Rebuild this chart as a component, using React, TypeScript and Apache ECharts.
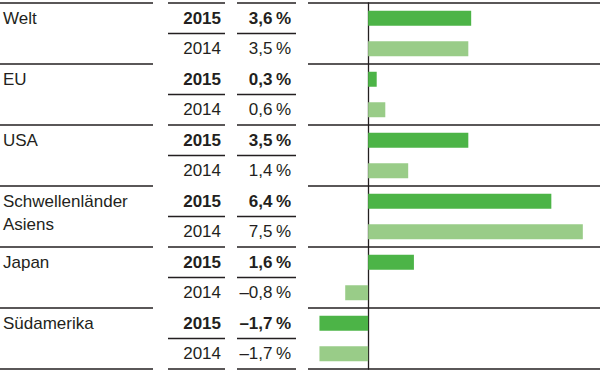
import React, { useEffect, useRef } from "react";
import * as echarts from "echarts";

const regions = ["Welt", "EU", "USA", "Schwellenländer\nAsiens", "Japan", "Südamerika"];
const years = ["2015", "2014"];
const values2015 = [3.6, 0.3, 3.5, 6.4, 1.6, -1.7];
const values2014 = [3.5, 0.6, 1.4, 7.5, -0.8, -1.7];

const DARK = "#4cb447";
const LIGHT = "#99cc88";
const INK = "#231f20";
const FONT = "'Liberation Sans', Arial, Helvetica, sans-serif";

function fmt(v: number): string {
  const s = Math.abs(v).toFixed(1).replace(".", ",");
  return (v < 0 ? "\u2013" : "") + s + "\u2009%";
}

export default function App() {
  const ref = useRef<HTMLDivElement>(null);
  useEffect(() => {
    if (!ref.current) return;
    const chart = echarts.init(ref.current, undefined, { renderer: "svg" });

    const rows: { region: number; year: string; value: number }[] = [];
    regions.forEach((_, i) => {
      rows.push({ region: i, year: years[0], value: values2015[i] });
      rows.push({ region: i, year: years[1], value: values2014[i] });
    });

    const gridLeft = 308;
    const gridRight = 600;

    chart.setOption({
      animation: false,
      grid: { left: gridLeft, right: 600 - gridRight, top: 3, bottom: 4 },
      xAxis: {
        type: "value",
        min: -2.1,
        max: 8.1,
        show: false,
      },
      yAxis: {
        type: "category",
        inverse: true,
        data: rows.map((r, i) => String(i)),
        axisLabel: { show: false },
        axisTick: { show: false },
        axisLine: { show: true, onZero: true, lineStyle: { color: INK, width: 1.3 } },
        splitLine: { show: false },
      },
      series: [
        {
          type: "bar",
          barWidth: 15,
          data: rows.map((r) => ({
            value: r.value,
            itemStyle: { color: r.year === years[0] ? DARK : LIGHT },
          })),
        },
      ],
    });

    const c = (i: number) => chart.convertToPixel({ yAxisIndex: 0 }, i) as number;
    const h = c(1) - c(0);
    const graphics: any[] = [];
    const line = (x1: number, x2: number, y: number) =>
      graphics.push({
        type: "line",
        shape: { x1, y1: y, x2, y2: y },
        style: { stroke: INK, lineWidth: 1.3 },
        z: 10,
      });
    const cols = {
      label: [0, 153],
      year: [168, 225],
      value: [237, 296],
      bar: [gridLeft, gridRight],
    };
    const allCols = (y: number) => {
      line(cols.label[0], cols.label[1], y);
      line(cols.year[0], cols.year[1], y);
      line(cols.value[0], cols.value[1], y);
      line(cols.bar[0], cols.bar[1], y);
    };
    allCols(c(0) - h / 2);
    regions.forEach((_, k) => {
      const yMid = c(2 * k) + h / 2;
      line(cols.year[0], cols.year[1], yMid);
      line(cols.value[0], cols.value[1], yMid);
      const yEnd = c(2 * k + 1) + h / 2;
      if (k % 2 === 1) allCols(yEnd);
      else {
        line(cols.label[0], cols.label[1], yEnd);
        line(cols.bar[0], cols.bar[1], yEnd);
      }
    });

    regions.forEach((name, k) => {
      graphics.push({
        type: "text",
        x: 3,
        y: c(2 * k) - 11.75,
        style: {
          text: name,
          font: `17px ${FONT}`,
          fill: INK,
          lineHeight: 23.5,
          textAlign: "left",
          textVerticalAlign: "top",
        },
      });
    });
    rows.forEach((r, i) => {
      const bold = r.year === years[0];
      graphics.push({
        type: "text",
        x: 221,
        y: c(i),
        style: {
          text: r.year,
          font: `${bold ? "bold " : ""}17px ${FONT}`,
          fill: INK,
          textAlign: "right",
          textVerticalAlign: "middle",
        },
      });
      graphics.push({
        type: "text",
        x: 291,
        y: c(i),
        style: {
          text: fmt(r.value),
          font: `${bold ? "bold " : ""}17px ${FONT}`,
          fill: INK,
          textAlign: "right",
          textVerticalAlign: "middle",
        },
      });
    });

    chart.setOption({ graphic: graphics });

    return () => chart.dispose();
  }, []);

  return (
    <div
      ref={ref}
      style={{ width: 600, height: 373, position: "absolute", left: 0, top: 0 }}
    />
  );
}
